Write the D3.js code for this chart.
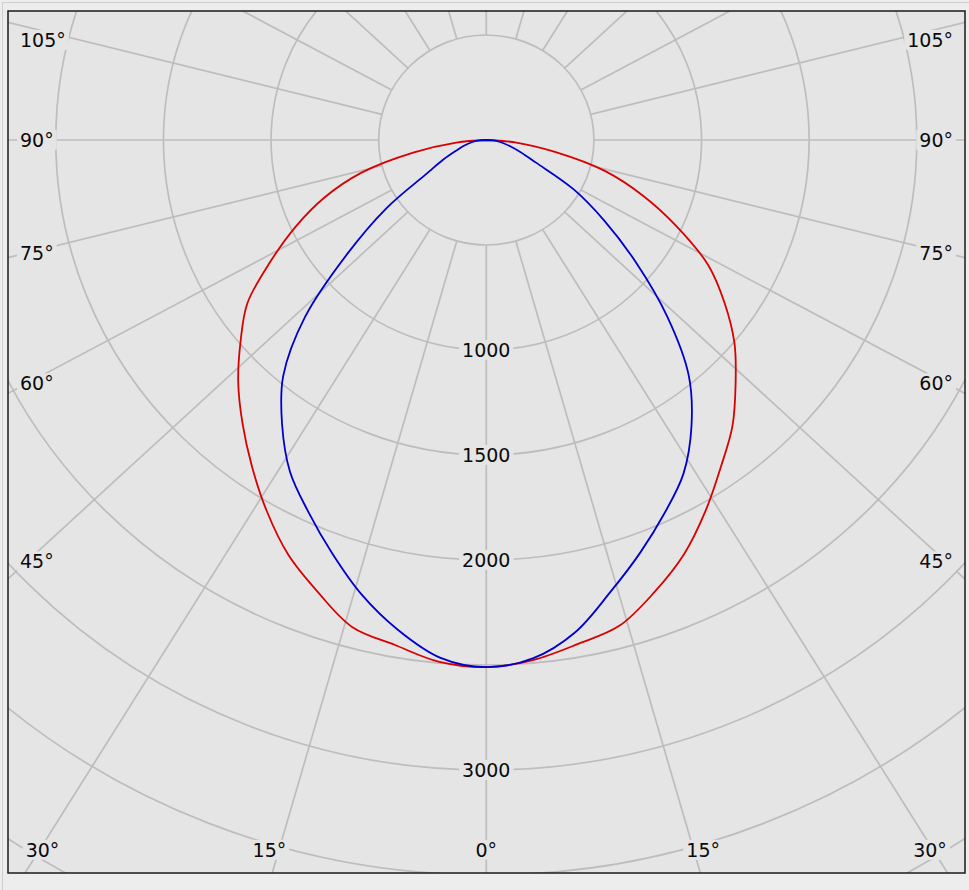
<!DOCTYPE html>
<html><head><meta charset="utf-8">
<script src="https://cdn.jsdelivr.net/npm/d3@7"></script>
<style>html,body{margin:0;padding:0;background:#ededed;} svg{display:block}</style>
</head><body>
<svg id="chart" width="969" height="890"></svg>
<script>
// ---- data ----
const gammaAngles = [0,5,10,15,20,25,30,35,40,45,50,55,60,65,70,75,80,85,90];
// red: C0-C180 plane (left = C180, right = C0)
const redLeft  = [2510,2495,2442,2402,2290,2178,2040,1898,1762,1630,1490,1355,1158,978,800,600,345,140,0];
const redRight = [2510,2486,2438,2394,2289,2175,2038,1900,1779,1638,1505,1351,1190,978,775,572,320,140,0];
// blue: C90-C270 plane
const blueLeft  = [2510,2474,2368,2240,2094,1955,1824,1654,1468,1190,842,567,320,220,150,110,75,40,0];
const blueRight = [2510,2478,2380,2228,2091,1960,1833,1662,1463,1189,909,669,466,255,170,115,75,40,0];
const ringValues = [500,1000,1500,2000,2500,3000,3500,4000,4500];
const ringLabels = [1000,1500,2000,3000];
const spokeAngles = d3.range(0,360,15);
const angleLabels = [0,15,30,45,60,75,90,105];

// ---- layout ----
const frame = {x:8, y:11, w:957, h:862};
const cx = 486.3, cy = 140;
const kx = 1.025;      // horizontal stretch of the polar grid
const kSpoke = 1.09;   // apparent stretch of the spokes
const r = d3.scaleLinear().domain([0,500]).range([0,105]);
const rad = d3.scaleLinear().domain([0,180]).range([0,Math.PI]);
const bg = "#e5e5e5", grid = "#bdbdbd";
const fontFam = "'DejaVu Sans', Verdana, sans-serif", fs = 19;

const svg = d3.select("#chart");
svg.append("rect").attr("x",2.5).attr("y",2.5).attr("width",969).attr("height",890)
  .attr("fill","none").attr("stroke","#cfcfcf");
svg.append("defs").append("clipPath").attr("id","clip")
  .append("rect").attr("x",frame.x).attr("y",frame.y).attr("width",frame.w).attr("height",frame.h);
svg.append("rect").attr("x",frame.x).attr("y",frame.y).attr("width",frame.w).attr("height",frame.h)
  .attr("fill",bg);

const g = svg.append("g").attr("clip-path","url(#clip)");

// rings
g.selectAll("ellipse.ring").data(ringValues).join("ellipse")
  .attr("class","ring").attr("cx",cx).attr("cy",cy)
  .attr("rx",d=>kx*r(d)).attr("ry",d=>r(d))
  .attr("fill","none").attr("stroke",grid).attr("stroke-width",1.7);

// spokes
const R0 = r(ringValues[0]);
g.selectAll("line.spoke").data(spokeAngles).join("line")
  .attr("class","spoke")
  .each(function(a){
    const dx = kSpoke*Math.sin(rad(a)), dy = Math.cos(rad(a));
    const t0 = 1/Math.sqrt((dx/(kx*R0))**2 + (dy/R0)**2);
    const t1 = 2000;
    d3.select(this).attr("x1",cx+dx*t0).attr("y1",cy+dy*t0)
      .attr("x2",cx+dx*t1).attr("y2",cy+dy*t1);
  })
  .attr("stroke",grid).attr("stroke-width",1.7);

// label helper
function label(parent, text, x, y, anchor){
  const grp = parent.append("g");
  const t = grp.append("text").attr("x",x).attr("y",y).attr("dy","0.36em")
    .attr("text-anchor",anchor).attr("font-family",fontFam).attr("font-size",fs)
    .attr("fill","#0a0a0a").text(text);
  const b = t.node().getBBox();
  grp.insert("rect","text").attr("x",b.x-3).attr("y",b.y+1).attr("width",b.width+6).attr("height",b.height-2)
    .attr("fill",bg);
}

const labels = svg.append("g");
// ring labels
ringLabels.forEach(v => label(labels, String(v), cx, cy + r(v), "middle"));

// angle labels
const colDx = 449, rowY = 850, kSide = 1.065, kBottom = 1.14;
angleLabels.forEach(a => {
  [-1,1].forEach(side => {
    if (a === 0 && side === 1) return;
    const s = Math.sin(rad(a)), c = Math.cos(rad(a));
    let yCol = cy + colDx * c / (kSide * s);
    if (a > 0 && yCol <= rowY) {
      yCol = Math.max(40, yCol);
      if (side < 0) label(labels, a+"°", 20, yCol, "start");
      else label(labels, a+"°", 953, yCol, "end");
    } else {
      let x = cx + side * (rowY - cy) * Math.tan(rad(a)) * kBottom;
      x = Math.max(42.5, Math.min(930, x));
      label(labels, a+"°", x, rowY, "middle");
    }
  });
});

// curves
function curvePoints(left, right){
  const pts = [];
  for (let i = gammaAngles.length-1; i >= 0; i--) {
    const a = rad(gammaAngles[i]), rr = r(left[i]);
    pts.push([cx - kx*rr*Math.sin(a), cy + rr*Math.cos(a)]);
  }
  for (let i = 1; i < gammaAngles.length; i++) {
    const a = rad(gammaAngles[i]), rr = r(right[i]);
    pts.push([cx + kx*rr*Math.sin(a), cy + rr*Math.cos(a)]);
  }
  return pts;
}
const line = d3.line().curve(d3.curveCatmullRom.alpha(0.5));
const curves = svg.append("g").attr("clip-path","url(#clip)");
curves.append("path").attr("d",line(curvePoints(redLeft,redRight)))
  .attr("fill","none").attr("stroke","#d80000").attr("stroke-width",1.8).attr("stroke-linejoin","round");
curves.append("path").attr("d",line(curvePoints(blueLeft,blueRight)))
  .attr("fill","none").attr("stroke","#0000cc").attr("stroke-width",1.8).attr("stroke-linejoin","round");

// frame border
svg.append("rect").attr("x",frame.x).attr("y",frame.y).attr("width",frame.w).attr("height",frame.h)
  .attr("fill","none").attr("stroke","#1a1a1a").attr("stroke-width",1.5);
</script>
</body></html>
